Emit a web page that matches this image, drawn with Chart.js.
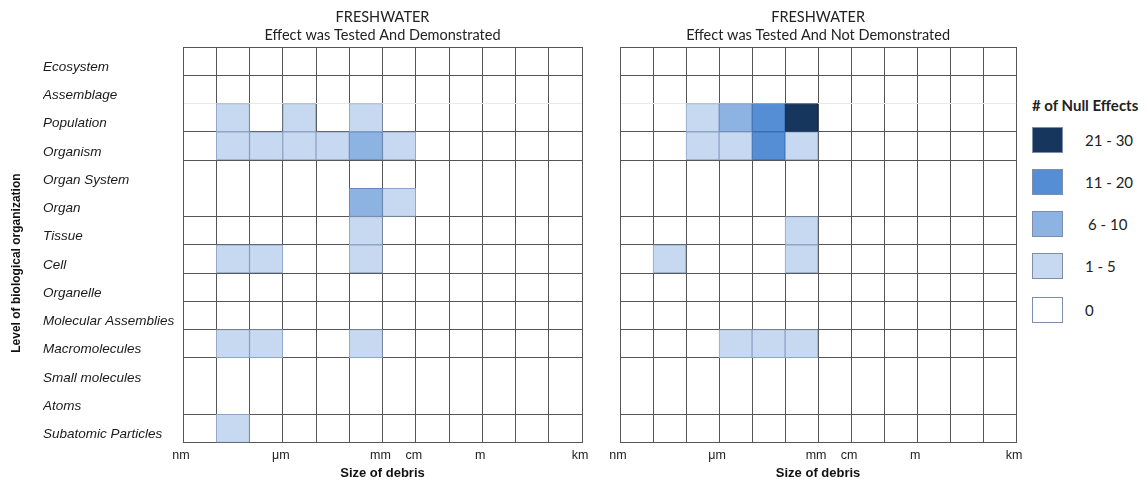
<!DOCTYPE html>
<html>
<head>
<meta charset="utf-8">
<script src="https://cdn.jsdelivr.net/npm/chart.js@4.4.1/dist/chart.umd.min.js"></script>
<style>
  html, body { margin: 0; padding: 0; background: #ffffff; }
  #wrap { position: relative; width: 1148px; height: 482px; overflow: hidden; }
  #leftPanel { position: absolute; left: 0; top: 0; }
  #rightPanel { position: absolute; left: 600px; top: 0; }
  #key { position: absolute; left: 1032px; top: 0; width: 116px; height: 482px;
         font-family: 'Lato', 'Open Sans', sans-serif; color: #222; }
  #key .head { position: absolute; left: 0; top: 95px; font-weight: bold; font-size: 15px;
               line-height: 20px; white-space: nowrap; }
  #key .swatch { position: absolute; left: 0; width: 29px; height: 24px; border: 1px solid #7d8ea8; }
  #key .txt { position: absolute; left: 53px; font-size: 15px; line-height: 20px; white-space: nowrap; }
</style>
</head>
<body>
<div id="wrap">
  <canvas id="leftPanel" width="600" height="482"></canvas>
  <canvas id="rightPanel" width="430" height="482"></canvas>
  <div id="key"></div>
</div>
<script>
// Levels of biological organization, top to bottom
const levels = ['Ecosystem', 'Assemblage', 'Population', 'Organism', 'Organ System', 'Organ', 'Tissue',
  'Cell', 'Organelle', 'Molecular Assemblies', 'Macromolecules', 'Small molecules', 'Atoms', 'Subatomic Particles'];

// Size axis: one column per decade (log10 metres), from nm up to km
const sizeUnits = ['nm', 'μm', 'mm', 'cm', 'm', 'km'];
const sizeExponents = [-9, -6, -3, -2, 0, 3];
const firstDecade = -9;
const lastDecade = 3;

// Number of null effects per level (rows) and size decade (columns)
const demonstratedCounts = [
  [0, 0, 0, 0, 0, 0, 0, 0, 0, 0, 0, 0],
  [0, 0, 0, 0, 0, 0, 0, 0, 0, 0, 0, 0],
  [0, 3, 0, 2, 0, 3, 0, 0, 0, 0, 0, 0],
  [0, 3, 2, 4, 2, 8, 3, 0, 0, 0, 0, 0],
  [0, 0, 0, 0, 0, 0, 0, 0, 0, 0, 0, 0],
  [0, 0, 0, 0, 0, 7, 2, 0, 0, 0, 0, 0],
  [0, 0, 0, 0, 0, 3, 0, 0, 0, 0, 0, 0],
  [0, 2, 2, 0, 0, 4, 0, 0, 0, 0, 0, 0],
  [0, 0, 0, 0, 0, 0, 0, 0, 0, 0, 0, 0],
  [0, 0, 0, 0, 0, 0, 0, 0, 0, 0, 0, 0],
  [0, 3, 2, 0, 0, 2, 0, 0, 0, 0, 0, 0],
  [0, 0, 0, 0, 0, 0, 0, 0, 0, 0, 0, 0],
  [0, 0, 0, 0, 0, 0, 0, 0, 0, 0, 0, 0],
  [0, 1, 0, 0, 0, 0, 0, 0, 0, 0, 0, 0]
];
const notDemonstratedCounts = [
  [0, 0, 0, 0, 0, 0, 0, 0, 0, 0, 0, 0],
  [0, 0, 0, 0, 0, 0, 0, 0, 0, 0, 0, 0],
  [0, 0, 4, 9, 16, 27, 0, 0, 0, 0, 0, 0],
  [0, 0, 3, 5, 13, 4, 0, 0, 0, 0, 0, 0],
  [0, 0, 0, 0, 0, 0, 0, 0, 0, 0, 0, 0],
  [0, 0, 0, 0, 0, 0, 0, 0, 0, 0, 0, 0],
  [0, 0, 0, 0, 0, 2, 0, 0, 0, 0, 0, 0],
  [0, 2, 0, 0, 0, 3, 0, 0, 0, 0, 0, 0],
  [0, 0, 0, 0, 0, 0, 0, 0, 0, 0, 0, 0],
  [0, 0, 0, 0, 0, 0, 0, 0, 0, 0, 0, 0],
  [0, 0, 0, 2, 3, 2, 0, 0, 0, 0, 0, 0],
  [0, 0, 0, 0, 0, 0, 0, 0, 0, 0, 0, 0],
  [0, 0, 0, 0, 0, 0, 0, 0, 0, 0, 0, 0],
  [0, 0, 0, 0, 0, 0, 0, 0, 0, 0, 0, 0]
];

// Colour classes for the number of null effects
const binLabels = ['21 - 30', '11 - 20', '6 - 10', '1 - 5', '0'];
const binMinimums = [21, 11, 6, 1, 0];
const binColors = ['#17365d', '#558ed5', '#8db3e2', '#c6d9f1', '#ffffff'];
const binEdges = ['#10243f', '#3c6fae', '#6688bb', '#8fa5c6', '#ffffff'];

function binOf(n) {
  for (let i = 0; i < binMinimums.length; i++) if (n >= binMinimums[i]) return i;
  return binMinimums.length - 1;
}

const gridColor = '#555555';
// row boundaries drawn faint or left out in the grid
function rowLineColor(ctx) {
  if (ctx.index === 2) return '#e8e8e8';
  if (ctx.index === 5 || ctx.index === 12) return 'rgba(0,0,0,0)';
  return gridColor;
}

function decadeDatasets(counts) {
  const sets = [];
  for (let c = 0; c < lastDecade - firstDecade; c++) {
    const lo = firstDecade + c;
    sets.push({
      label: String(lo),
      data: levels.map((_, r) => counts[r][c] > 0 ? [lo, lo + 1] : null),
      backgroundColor: levels.map((_, r) => binColors[binOf(counts[r][c])]),
      borderColor: levels.map((_, r) => binEdges[binOf(counts[r][c])]),
      borderWidth: 1,
      borderSkipped: false,
      grouped: false,
      barPercentage: 1,
      categoryPercentage: 1
    });
  }
  return sets;
}

function makePanel(canvasId, counts, subtitle, withLevels, padLeft, padRight) {
  return new Chart(document.getElementById(canvasId), {
    type: 'bar',
    data: { labels: levels, datasets: decadeDatasets(counts) },
    options: {
      indexAxis: 'y',
      responsive: false,
      animation: false,
      events: [],
      layout: { padding: { left: padLeft, right: padRight, top: 0, bottom: 0 } },
      plugins: {
        legend: { display: false },
        tooltip: { enabled: false },
        title: {
          display: true,
          fullSize: false,
          text: ['FRESHWATER', subtitle],
          color: '#222222',
          font: { family: 'Lato', size: 14.5, weight: 'normal', lineHeight: 1.2 },
          padding: { top: 9, bottom: 3.2 }
        }
      },
      scales: {
        x: {
          type: 'linear',
          min: firstDecade,
          max: lastDecade,
          grid: { color: gridColor, lineWidth: 1, drawTicks: false },
          border: { color: gridColor, width: 1 },
          ticks: {
            stepSize: 1,
            autoSkip: false,
            maxRotation: 0,
            padding: 5.5,
            labelOffset: -2,
            color: '#222222',
            font: { family: 'Liberation Sans', size: 12.5 },
            callback: (v) => {
              const i = sizeExponents.indexOf(v);
              return i >= 0 ? sizeUnits[i] : '';
            }
          },
          title: {
            display: true,
            text: 'Size of debris',
            color: '#111111',
            font: { family: 'Liberation Sans', size: 13, weight: 'bold', lineHeight: 1.2 },
            padding: { top: -3.3, bottom: 1.2 }
          }
        },
        y: {
          type: 'category',
          offset: true,
          grid: { color: rowLineColor, lineWidth: 1, drawTicks: false, offset: true },
          border: { color: gridColor, width: 1 },
          ticks: {
            display: withLevels,
            crossAlign: 'far',
            padding: 8,
            labelOffset: 6,
            color: '#1a1a1a',
            font: { family: 'Liberation Sans', size: 13.5, style: 'italic' }
          },
          title: {
            display: withLevels,
            text: 'Level of biological organization           ',
            color: '#111111',
            font: { family: 'Liberation Sans', size: 12, weight: 'bold', lineHeight: 1.2 },
            padding: { top: -33.2, bottom: 0 }
          },
          afterFit: (scale) => { scale.width = withLevels ? 140 : 0; }
        }
      }
    }
  });
}

makePanel('leftPanel', demonstratedCounts, 'Effect was Tested And Demonstrated', true, 43, 18);
makePanel('rightPanel', notDemonstratedCounts, 'Effect was Tested And Not Demonstrated', false, 20, 12);

// Colour key
const key = document.getElementById('key');
const head = document.createElement('div');
head.className = 'head';
head.textContent = '# of Null Effects';
key.appendChild(head);
const swatchTops = [127, 169, 211, 253, 297];
binLabels.forEach((lab, i) => {
  const sw = document.createElement('div');
  sw.className = 'swatch';
  sw.style.top = swatchTops[i] + 'px';
  sw.style.background = binColors[i];
  key.appendChild(sw);
  const tx = document.createElement('div');
  tx.className = 'txt';
  tx.style.top = (swatchTops[i] + 3) + 'px';
  if (lab === '6 - 10') tx.style.left = '56px';
  tx.textContent = lab;
  key.appendChild(tx);
});
</script>
</body>
</html>
